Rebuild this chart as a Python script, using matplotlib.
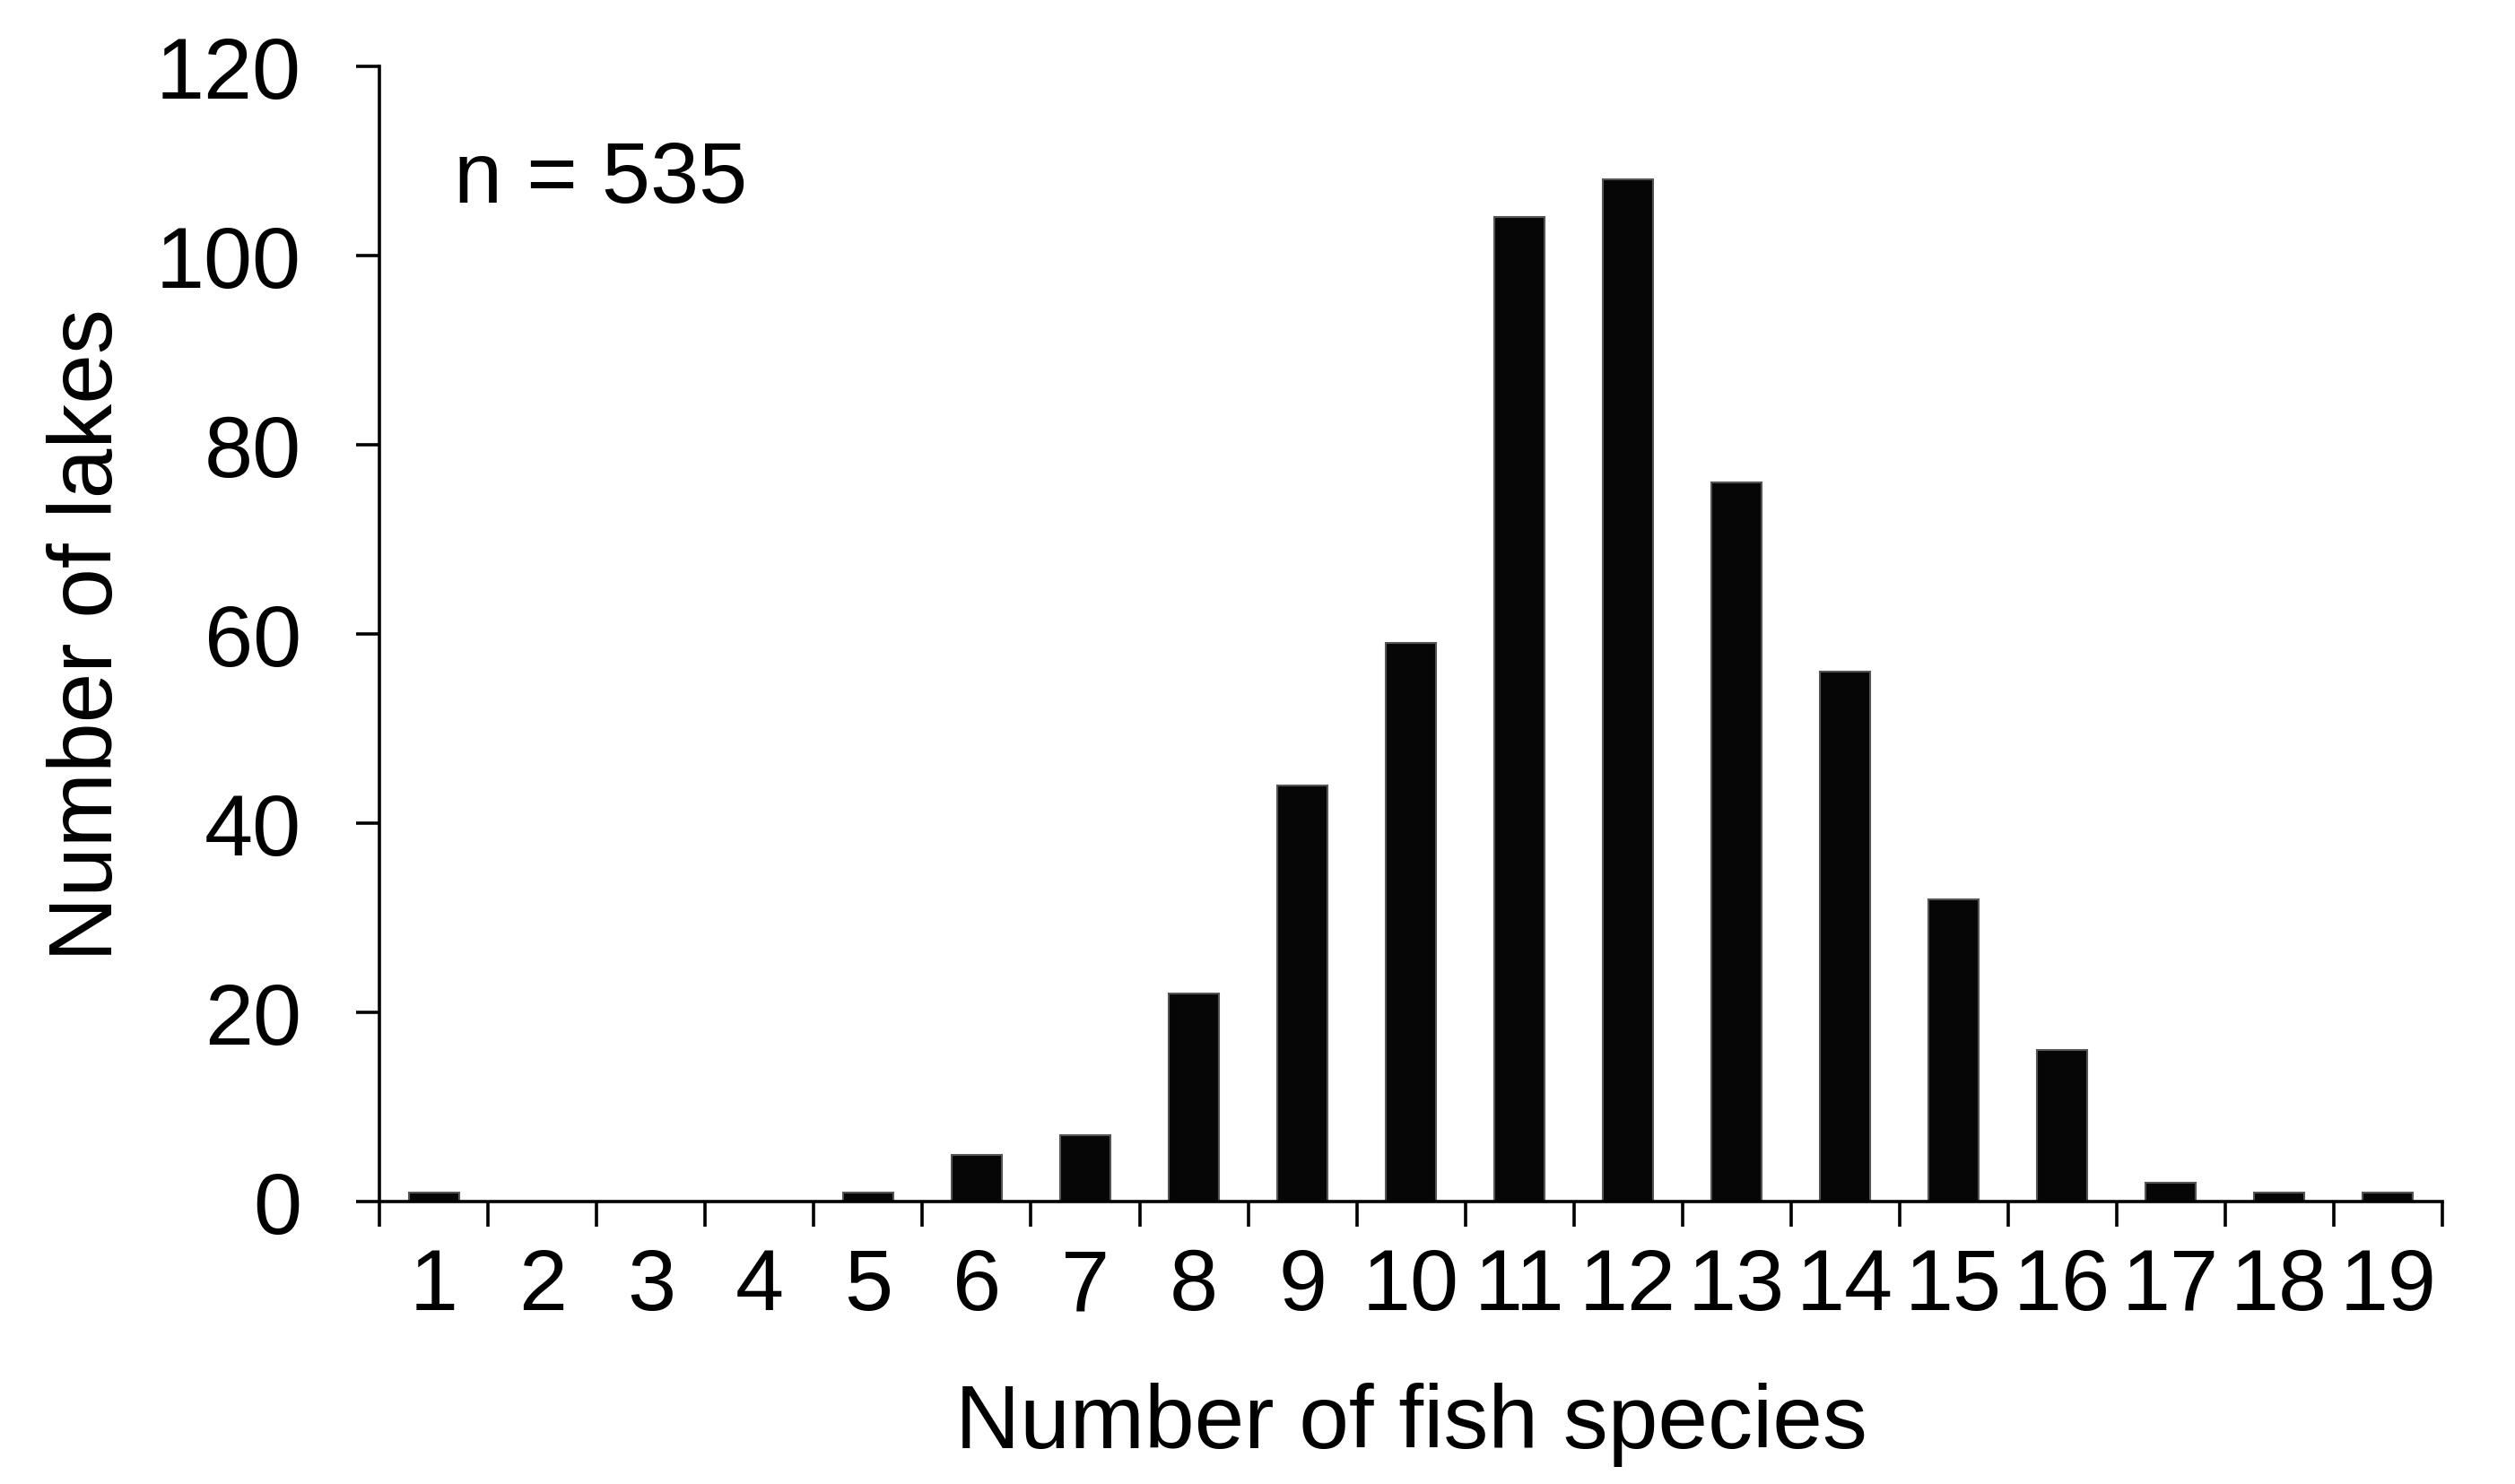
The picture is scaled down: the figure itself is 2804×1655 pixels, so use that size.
import matplotlib
matplotlib.use("Agg")
import matplotlib.pyplot as plt
import numpy as np

# number of fish species per lake vs count of lakes
species = [1, 2, 3, 4, 5, 6, 7, 8, 9, 10, 11, 12, 13, 14, 15, 16, 17, 18, 19]
lakes = [1, 0, 0, 0, 1, 5, 7, 22, 44, 59, 104, 108, 76, 56, 32, 16, 2, 1, 1]

plt.rcParams['font.family'] = ['Liberation Sans', 'DejaVu Sans']

fig, ax = plt.subplots(figsize=(28.04, 16.56), dpi=100)
fig.subplots_adjust(left=0.151, right=0.971, top=0.955, bottom=0.19)

ax.bar(species, lakes, width=0.46, color='#060606', edgecolor='#555555', linewidth=1.5)

ax.set_xlim(0.5, 19.5)
ax.set_ylim(0, 120)
ax.set_yticks(np.arange(0, 121, 20))
ax.set_xticks(species)
ax.set_xticks(np.arange(0.5, 19.6, 1), minor=True)

for s in ['top', 'right']:
    ax.spines[s].set_visible(False)
for s in ['left', 'bottom']:
    ax.spines[s].set_linewidth(2.6)

ax.tick_params(axis='x', which='major', length=0, pad=36, labelsize=70)
ax.tick_params(axis='x', which='minor', length=20, width=2.6, direction='out')
ax.tick_params(axis='y', length=19, width=2.6, pad=44, labelsize=70)

ax.set_xlabel('Number of fish species', fontsize=72, labelpad=44)
ax.set_ylabel('Number of lakes', fontsize=72, labelpad=20)

ax.text(0.036, 0.90, 'n = 535', transform=ax.transAxes, fontsize=70,
        ha='left', va='center')

fig.savefig('out.png', dpi=100, facecolor='white')
